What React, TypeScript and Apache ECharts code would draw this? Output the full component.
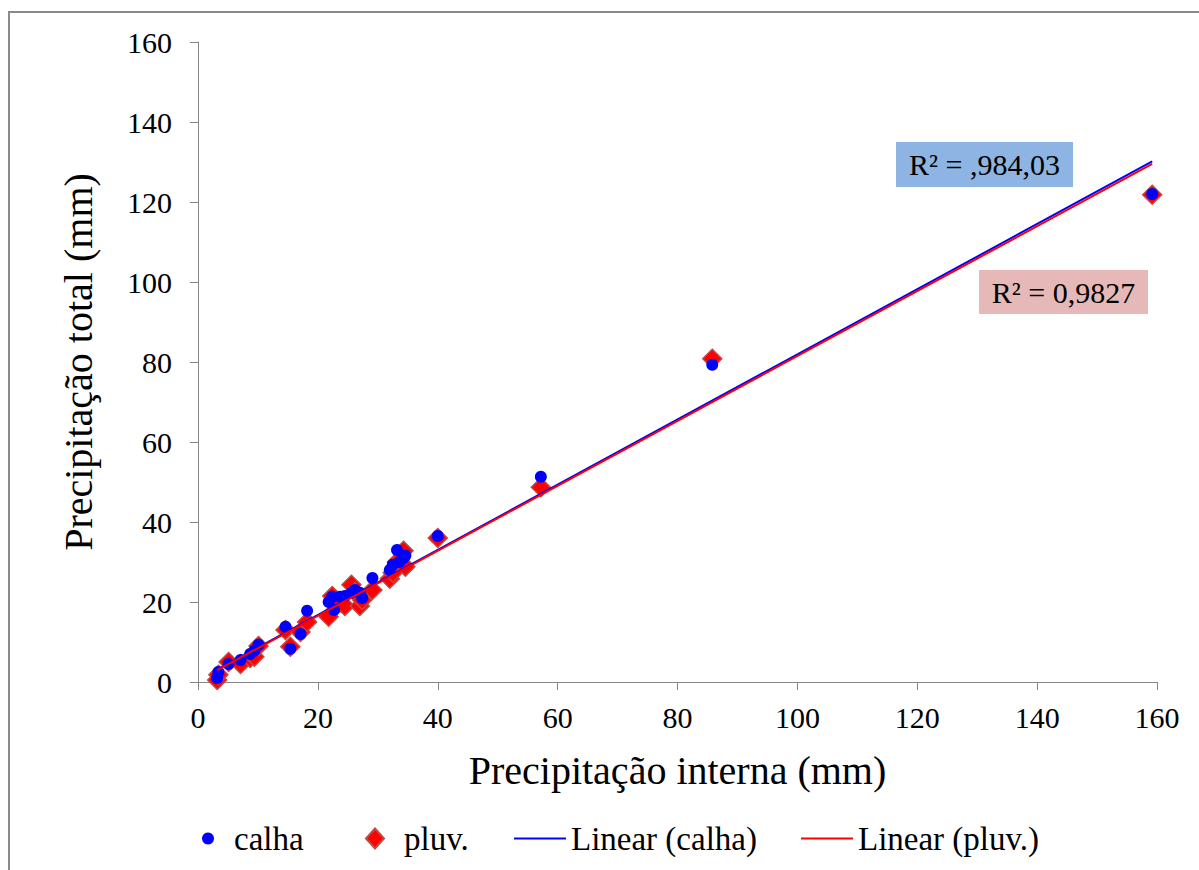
import React, { useEffect, useRef } from "react";
import * as echarts from "echarts";

// Precipitação interna (mm) – shared x values
const xInterna = [3.2, 3.4, 5.1, 7.1, 8.7, 9.4, 10.1, 14.6, 15.4, 17.1, 18.2, 21.8, 22.4, 22.7, 23.7, 24.5, 25.6, 26.2, 27.0, 27.4, 29.1, 32.0, 32.5, 33.2, 33.6, 34.3, 34.6, 40.0, 57.2, 85.8, 159.2];
// Precipitação total – calha
const yCalha = [1.0, 2.5, 4.5, 5.5, 7.0, 7.8, 9.3, 13.8, 8.3, 12.0, 17.8, 20.0, 21.3, 18.0, 21.3, 21.5, 22.3, 23.0, 22.3, 21.0, 26.0, 28.0, 29.3, 33.0, 30.0, 31.0, 31.6, 36.5, 51.3, 79.3, 122.0];
// Precipitação total – pluviômetro
const yPluv = [0.5, 1.8, 5.0, 4.5, 6.0, 6.3, 9.0, 13.0, 8.8, 12.5, 15.0, 16.3, 21.5, 19.8, 19.8, 19.0, 24.3, 22.5, 19.0, 20.5, 23.0, 25.8, 27.3, 30.0, 30.5, 32.8, 28.8, 36.0, 48.7, 80.8, 121.8];
// Linear trendline coefficients [slope, intercept]
const trendCalha = [0.8145, 0.47];
const trendPluv = [0.8115, 0.35];
const r2Labels = ["R² = ,984,03", "R² = 0,9827"];
const seriesNames = ["calha", "pluv.", "Linear (calha)", "Linear (pluv.)"];

const FONT = "'Liberation Serif', 'Times New Roman', serif";

export default function App() {
  const ref = useRef<HTMLDivElement>(null);
  useEffect(() => {
    if (!ref.current) return;
    const chart = echarts.init(ref.current, null, { renderer: "svg" });
    const xmin = Math.min(...xInterna);
    const xmax = Math.max(...xInterna);
    const trend = (c: number[]) => [
      [xmin, c[0] * xmin + c[1]],
      [xmax, c[0] * xmax + c[1]],
    ];
    const axisCommon = {
      min: 0,
      max: 160,
      interval: 20,
      axisLine: { show: true, lineStyle: { color: "#868686", width: 1 } },
      axisTick: { show: true, inside: false, length: 8, lineStyle: { color: "#868686" } },
      splitLine: { show: false },
      nameLocation: "middle" as const,
      nameTextStyle: { fontFamily: FONT, fontSize: 40, color: "#000" },
    };
    const legendText = (pad: number) => ({ fontFamily: FONT, fontSize: 33, color: "#000", padding: [0, 0, 0, pad] });
    const LT = 817;
    chart.setOption({
      animation: false,
      backgroundColor: "#fff",
      grid: { left: 198, top: 42, width: 959, height: 640, containLabel: false },
      xAxis: {
        type: "value",
        ...axisCommon,
        name: "Precipitação interna (mm)",
        nameGap: 68,
        axisLabel: { fontFamily: FONT, fontSize: 30, color: "#000", margin: 20 },
      },
      yAxis: {
        type: "value",
        ...axisCommon,
        name: "Precipitação total (mm)",
        nameGap: 100,
        axisLabel: { fontFamily: FONT, fontSize: 30, color: "#000", margin: 26 },
      },
      legend: [
        { data: [{ name: seriesNames[0], icon: "circle" }], left: 197, top: LT, itemWidth: 12, itemHeight: 12, itemGap: 0, textStyle: legendText(15) },
        { data: [{ name: seriesNames[1], icon: "diamond" }], left: 360, top: LT, itemWidth: 18, itemHeight: 20, itemGap: 0, textStyle: legendText(15) },
        { data: [{ name: seriesNames[2], icon: "rect" }], left: 509, top: LT, itemWidth: 52, itemHeight: 2, itemGap: 0, textStyle: legendText(0) },
        { data: [{ name: seriesNames[3], icon: "rect" }], left: 796, top: LT, itemWidth: 52, itemHeight: 2, itemGap: 0, textStyle: legendText(0) },
      ],
      graphic: [
        { type: "rect", shape: { x: 9, y: 12, width: 1400, height: 1000 }, style: { fill: "none", stroke: "#8a8a8a", lineWidth: 2 }, silent: true },
        { type: "rect", shape: { x: 896, y: 142, width: 177, height: 45 }, style: { fill: "#8DB4E2" }, z: 10 },
        { type: "text", x: 984.5, y: 164.5, style: { text: r2Labels[0], font: `30px ${FONT}`, fill: "#000", align: "center", verticalAlign: "middle" }, z: 11 },
        { type: "rect", shape: { x: 979, y: 270, width: 169, height: 44 }, style: { fill: "#E6B9B8" }, z: 10 },
        { type: "text", x: 1063.5, y: 292, style: { text: r2Labels[1], font: `30px ${FONT}`, fill: "#000", align: "center", verticalAlign: "middle" }, z: 11 },
      ],
      series: [
        {
          name: seriesNames[1],
          type: "scatter",
          symbol: "diamond",
          symbolSize: 19,
          data: xInterna.map((x, i) => [x, yPluv[i]]),
          itemStyle: { color: "#FF0000", borderColor: "#BE4B48", borderWidth: 1.5, opacity: 1 },
          z: 2,
        },
        {
          name: seriesNames[0],
          type: "scatter",
          symbol: "circle",
          symbolSize: 12,
          data: xInterna.map((x, i) => [x, yCalha[i]]),
          itemStyle: { color: "#0000FF", opacity: 1 },
          z: 3,
        },
        {
          name: seriesNames[2],
          type: "line",
          data: trend(trendCalha),
          symbol: "none",
          showSymbol: false,
          lineStyle: { color: "#0000FF", width: 2 },
          itemStyle: { color: "#0000FF" },
          z: 4,
        },
        {
          name: seriesNames[3],
          type: "line",
          data: trend(trendPluv),
          symbol: "none",
          showSymbol: false,
          lineStyle: { color: "#FF0000", width: 2 },
          itemStyle: { color: "#FF0000" },
          z: 4,
        },
      ],
    });
    return () => chart.dispose();
  }, []);
  return <div ref={ref} style={{ position: "fixed", left: 0, top: 0, width: 1199, height: 870 }} />;
}
